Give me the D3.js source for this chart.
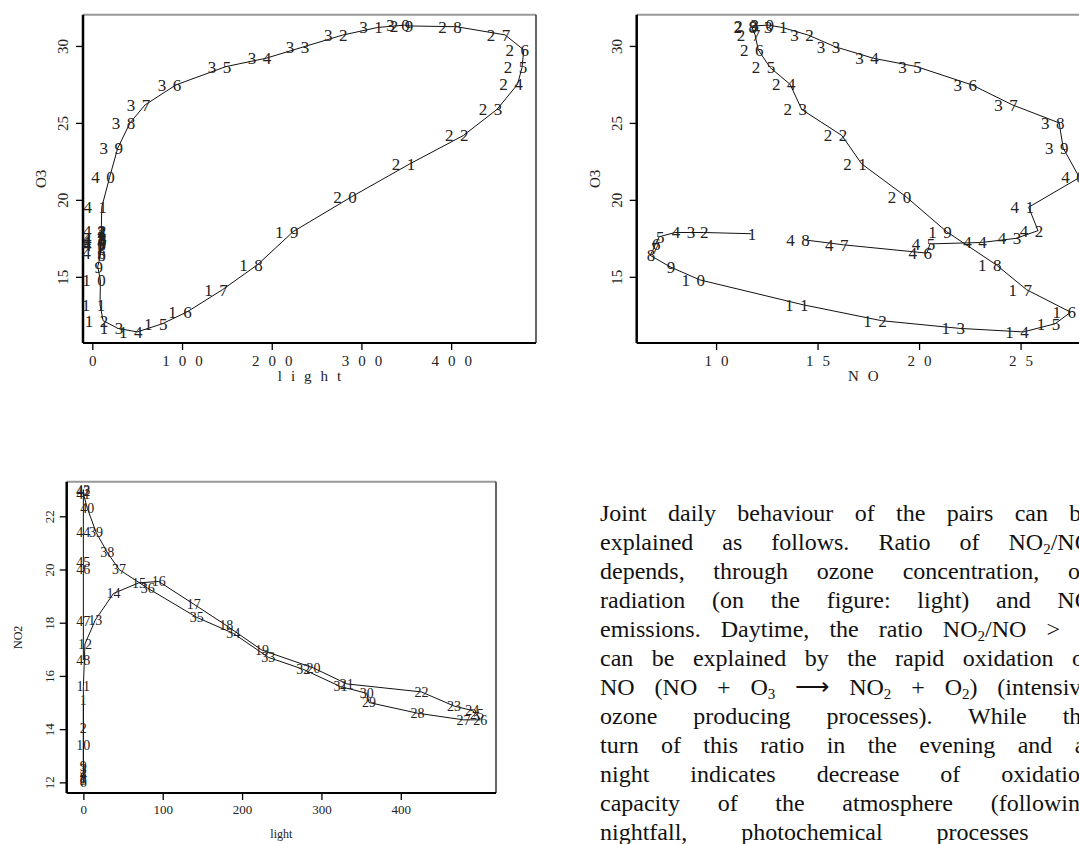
<!DOCTYPE html>
<html>
<head>
<meta charset="utf-8">
<script src="https://cdn.jsdelivr.net/npm/d3@7"></script>
<style>
body { margin: 0; background: #fff; overflow: hidden; }
svg text { font-family: "Liberation Serif", "Times New Roman", serif; fill: #222; }
#para { position: absolute; left: 600px; top: 499px; width: 492px;
        font: 24px "Liberation Serif", "Times New Roman", serif; color: #111; }
#para div { height: 29px; line-height: 29px; text-align: justify; text-align-last: justify; white-space: nowrap; }
#para div.last { text-align-last: left; word-spacing: 48px; }
#para sub { font-size: 15px; vertical-align: -4px; line-height: 0; }
</style>
</head>
<body>
<svg id="chart" width="1079" height="844"></svg>
<div id="para"></div>
<script>
// hour of the day index, 1..48
const hours = d3.range(1, 49);

// ozone, shared by the two top panels
const o3 = [17.8, 17.88, 17.88, 17.88, 17.6, 17.1, 16.9, 16.4, 15.65, 14.8,
    13.18, 12.15, 11.65, 11.42, 11.95, 12.7, 14.16, 15.78, 17.94, 20.2,
    22.34, 24.18, 25.87, 27.5, 28.6, 29.74, 30.72, 31.25, 31.3, 31.35,
    31.2, 30.7, 29.95, 29.2, 28.66, 27.47, 26.17, 25.0, 23.36, 21.45,
    19.52, 18.0, 17.5, 17.23, 17.14, 16.54, 17.08, 17.4];

// light as read on the light / O3 panel
const lightA = [9, 9, 9, 9, 9, 9, 9, 9, 6, 9,
    8.6, 12, 28.5, 50, 78, 105, 145, 184, 224, 289,
    354, 413.6, 451, 474, 479, 481, 460, 406, 352, 348,
    318, 278.7, 236, 193.6, 149, 93.3, 58.8, 42, 28.3, 19.2,
    10.5, 10, 10, 9, 9, 9, 10, 10];

const no = [11.72, 9.37, 8.72, 7.98, 7.2, 7.0, 6.95, 6.75, 7.73, 9.2,
    14.3, 18.15, 22.0, 25.14, 26.7, 27.47, 25.3, 23.8, 21.35, 19.36,
    17.17, 16.2, 14.22, 13.65, 12.66, 12.08, 11.92, 11.76, 11.8, 12.6,
    13.26, 14.55, 15.86, 17.75, 19.87, 22.6, 24.6, 26.9, 27.1, 27.9,
    25.4, 25.86, 24.78, 23.08, 20.54, 20.38, 16.27, 14.35];

// light as read on the light / NO2 panel
const lightC = [0, 0, 0, 0, 0, 0, 0, 0, 0, 0,
    0, 2, 15, 38, 70, 95, 139, 180, 225, 290,
    332, 426, 467, 490, 496, 500, 479, 421, 360, 357,
    324, 277, 233, 189, 143, 81, 45, 30, 16, 5,
    0, 0, 0, 0, 0, 0, 0, 0];

const no2 = [15.1, 14.05, 12.5, 12.3, 12.1, 12.0, 12.05, 12.15, 12.6, 13.4,
    15.6, 17.2, 18.1, 19.1, 19.5, 19.55, 18.7, 17.9, 16.97, 16.3,
    15.7, 15.4, 14.87, 14.7, 14.55, 14.35, 14.35, 14.6, 15.0, 15.35,
    15.6, 16.25, 16.7, 17.6, 18.2, 19.3, 20.0, 20.65, 21.4, 22.3,
    22.85, 22.95, 23.0, 21.4, 20.28, 20.0, 18.06, 16.6];

const lightTicks = [0, 100, 200, 300, 400];
const o3Ticks = [15, 20, 25, 30];
const noTicks = [10, 15, 20, 25];
const no2Ticks = [12, 14, 16, 18, 20, 22];

const paraLines = [
    "Joint daily behaviour of the pairs can be",
    "explained as follows. Ratio of NO<sub>2</sub>/NO",
    "depends, through ozone concentration, on",
    "radiation (on the figure: light) and NO",
    "emissions. Daytime, the ratio NO<sub>2</sub>/NO &gt; 1",
    "can be explained by the rapid oxidation of",
    "NO (NO + O<sub>3</sub> &#x27F6; NO<sub>2</sub> + O<sub>2</sub>) (intensive",
    "ozone producing processes). While the",
    "turn of this ratio in the evening and at",
    "night indicates decrease of oxidation",
    "capacity of the atmosphere (following",
    "nightfall, photochemical processes"
];

const svg = d3.select("#chart");

function spaced(s, gap) {
    return s.split("").join("\u2009".repeat(gap));
}

function panel(p) {
    let g = svg.append("g");
    let x = d3.scaleLinear().domain(p.xDomain).range([p.left, p.right]);
    let y = d3.scaleLinear().domain(p.yDomain).range([p.bottom, p.top]);

    // frame, scanned look: heavy left/bottom, pale top
    g.append("line").attr("x1", p.left).attr("x2", p.right).attr("y1", p.top).attr("y2", p.top)
        .attr("stroke", "#999").attr("stroke-width", 2);
    g.append("line").attr("x1", p.right).attr("x2", p.right).attr("y1", p.top).attr("y2", p.bottom)
        .attr("stroke", "#333").attr("stroke-width", 1.5);
    g.append("line").attr("x1", p.left).attr("x2", p.right).attr("y1", p.bottom).attr("y2", p.bottom)
        .attr("stroke", "#000").attr("stroke-width", 2);
    g.append("line").attr("x1", p.left).attr("x2", p.left).attr("y1", p.top).attr("y2", p.bottom)
        .attr("stroke", "#000").attr("stroke-width", 2.5);

    let xAxis = g.append("g").attr("transform", "translate(0," + p.bottom + ")")
        .call(d3.axisBottom(x).tickValues(p.xTicks).tickSize(7).tickPadding(5)
            .tickFormat(d => p.spacedTicks ? spaced(String(d), 3) : String(d)));
    xAxis.select(".domain").remove();
    xAxis.selectAll("line").attr("stroke", "#000").attr("stroke-width", 1.3);
    xAxis.selectAll("text").style("font-size", p.tickSize + "px")
        .style("font-family", "Liberation Serif").attr("fill", "#222");

    let yAxis = g.append("g").attr("transform", "translate(" + p.left + ",0)")
        .call(d3.axisLeft(y).tickValues(p.yTicks).tickSize(7));
    yAxis.select(".domain").remove();
    yAxis.selectAll("line").attr("stroke", "#000").attr("stroke-width", 1.3);
    yAxis.selectAll("text")
        .style("font-size", p.tickSize + "px").style("font-family", "Liberation Serif")
        .attr("fill", "#222")
        .attr("text-anchor", "middle")
        .attr("transform", "rotate(-90)")
        .attr("x", 0).attr("y", -p.yLabelOff).attr("dy", "0");

    let cx = (p.left + Math.min(p.right, 1079 + 11)) / 2;
    g.append("text").attr("x", cx).attr("y", p.bottom + p.xTitleOff)
        .attr("text-anchor", "middle").style("font-size", p.titleSize + "px")
        .text(p.xTitle);
    g.append("text")
        .attr("transform", "translate(" + (p.left - p.yTitleOff) + "," + (p.top + p.bottom) / 2 + ") rotate(-90)")
        .attr("text-anchor", "middle").style("font-size", p.titleSize + "px")
        .text(p.yTitle);

    let pts = hours.map((h, i) => ({h: h, x: p.xs[i], y: p.ys[i]}));

    g.append("path").datum(pts)
        .attr("fill", "none").attr("stroke", "#111").attr("stroke-width", 1)
        .attr("d", d3.line().x(d => x(d.x)).y(d => y(d.y)));

    g.selectAll(".lab").data(pts).enter().append("text")
        .attr("class", "lab")
        .attr("text-anchor", "middle")
        .attr("y", d => y(d.y))
        .attr("dy", "0.35em")
        .style("font-size", p.labelSize + "px")
        .attr("x", d => {
            if (!p.spacedLabels) return x(d.x);
            let s = String(d.h), px = x(d.x) + 1, out = [];
            for (let k = 0; k < s.length; k++) out.push(px - (s.length - 1 - k) * p.labelGap);
            return out.join(" ");
        })
        .text(d => String(d.h));
}

panel({
    left: 83, right: 536, top: 14.7, bottom: 343,
    xDomain: [-10.4, 494.6], yDomain: [10.7, 32.03],
    xs: lightA, ys: o3, xTicks: lightTicks, yTicks: o3Ticks,
    spacedTicks: true, spacedLabels: true, labelGap: 15, yLabelOff: 15,
    tickSize: 15, labelSize: 17, titleSize: 15,
    xTitle: spaced("light", 3), xTitleOff: 38, yTitle: "O3", yTitleOff: 37
});

panel({
    left: 636.7, right: 1090, top: 14.7, bottom: 343,
    xDomain: [6.09, 28.42], yDomain: [10.7, 32.03],
    xs: no, ys: o3, xTicks: noTicks, yTicks: o3Ticks,
    spacedTicks: true, spacedLabels: true, labelGap: 15, yLabelOff: 15,
    tickSize: 15, labelSize: 17, titleSize: 15,
    xTitle: spaced("NO", 3), xTitleOff: 38, yTitle: "O3", yTitleOff: 37
});

panel({
    left: 66.7, right: 496, top: 481.7, bottom: 793,
    xDomain: [-21, 520], yDomain: [11.6, 23.3],
    xs: lightC, ys: no2, xTicks: lightTicks, yTicks: no2Ticks,
    spacedTicks: false, spacedLabels: false, yLabelOff: 13,
    tickSize: 13, labelSize: 14, titleSize: 12,
    xTitle: "light", xTitleOff: 45, yTitle: "NO2", yTitleOff: 45
});

d3.select("#para").selectAll("div").data(paraLines).enter().append("div")
    .attr("class", (d, i) => i === paraLines.length - 1 ? "last" : null)
    .html(d => d);
</script>
</body>
</html>
